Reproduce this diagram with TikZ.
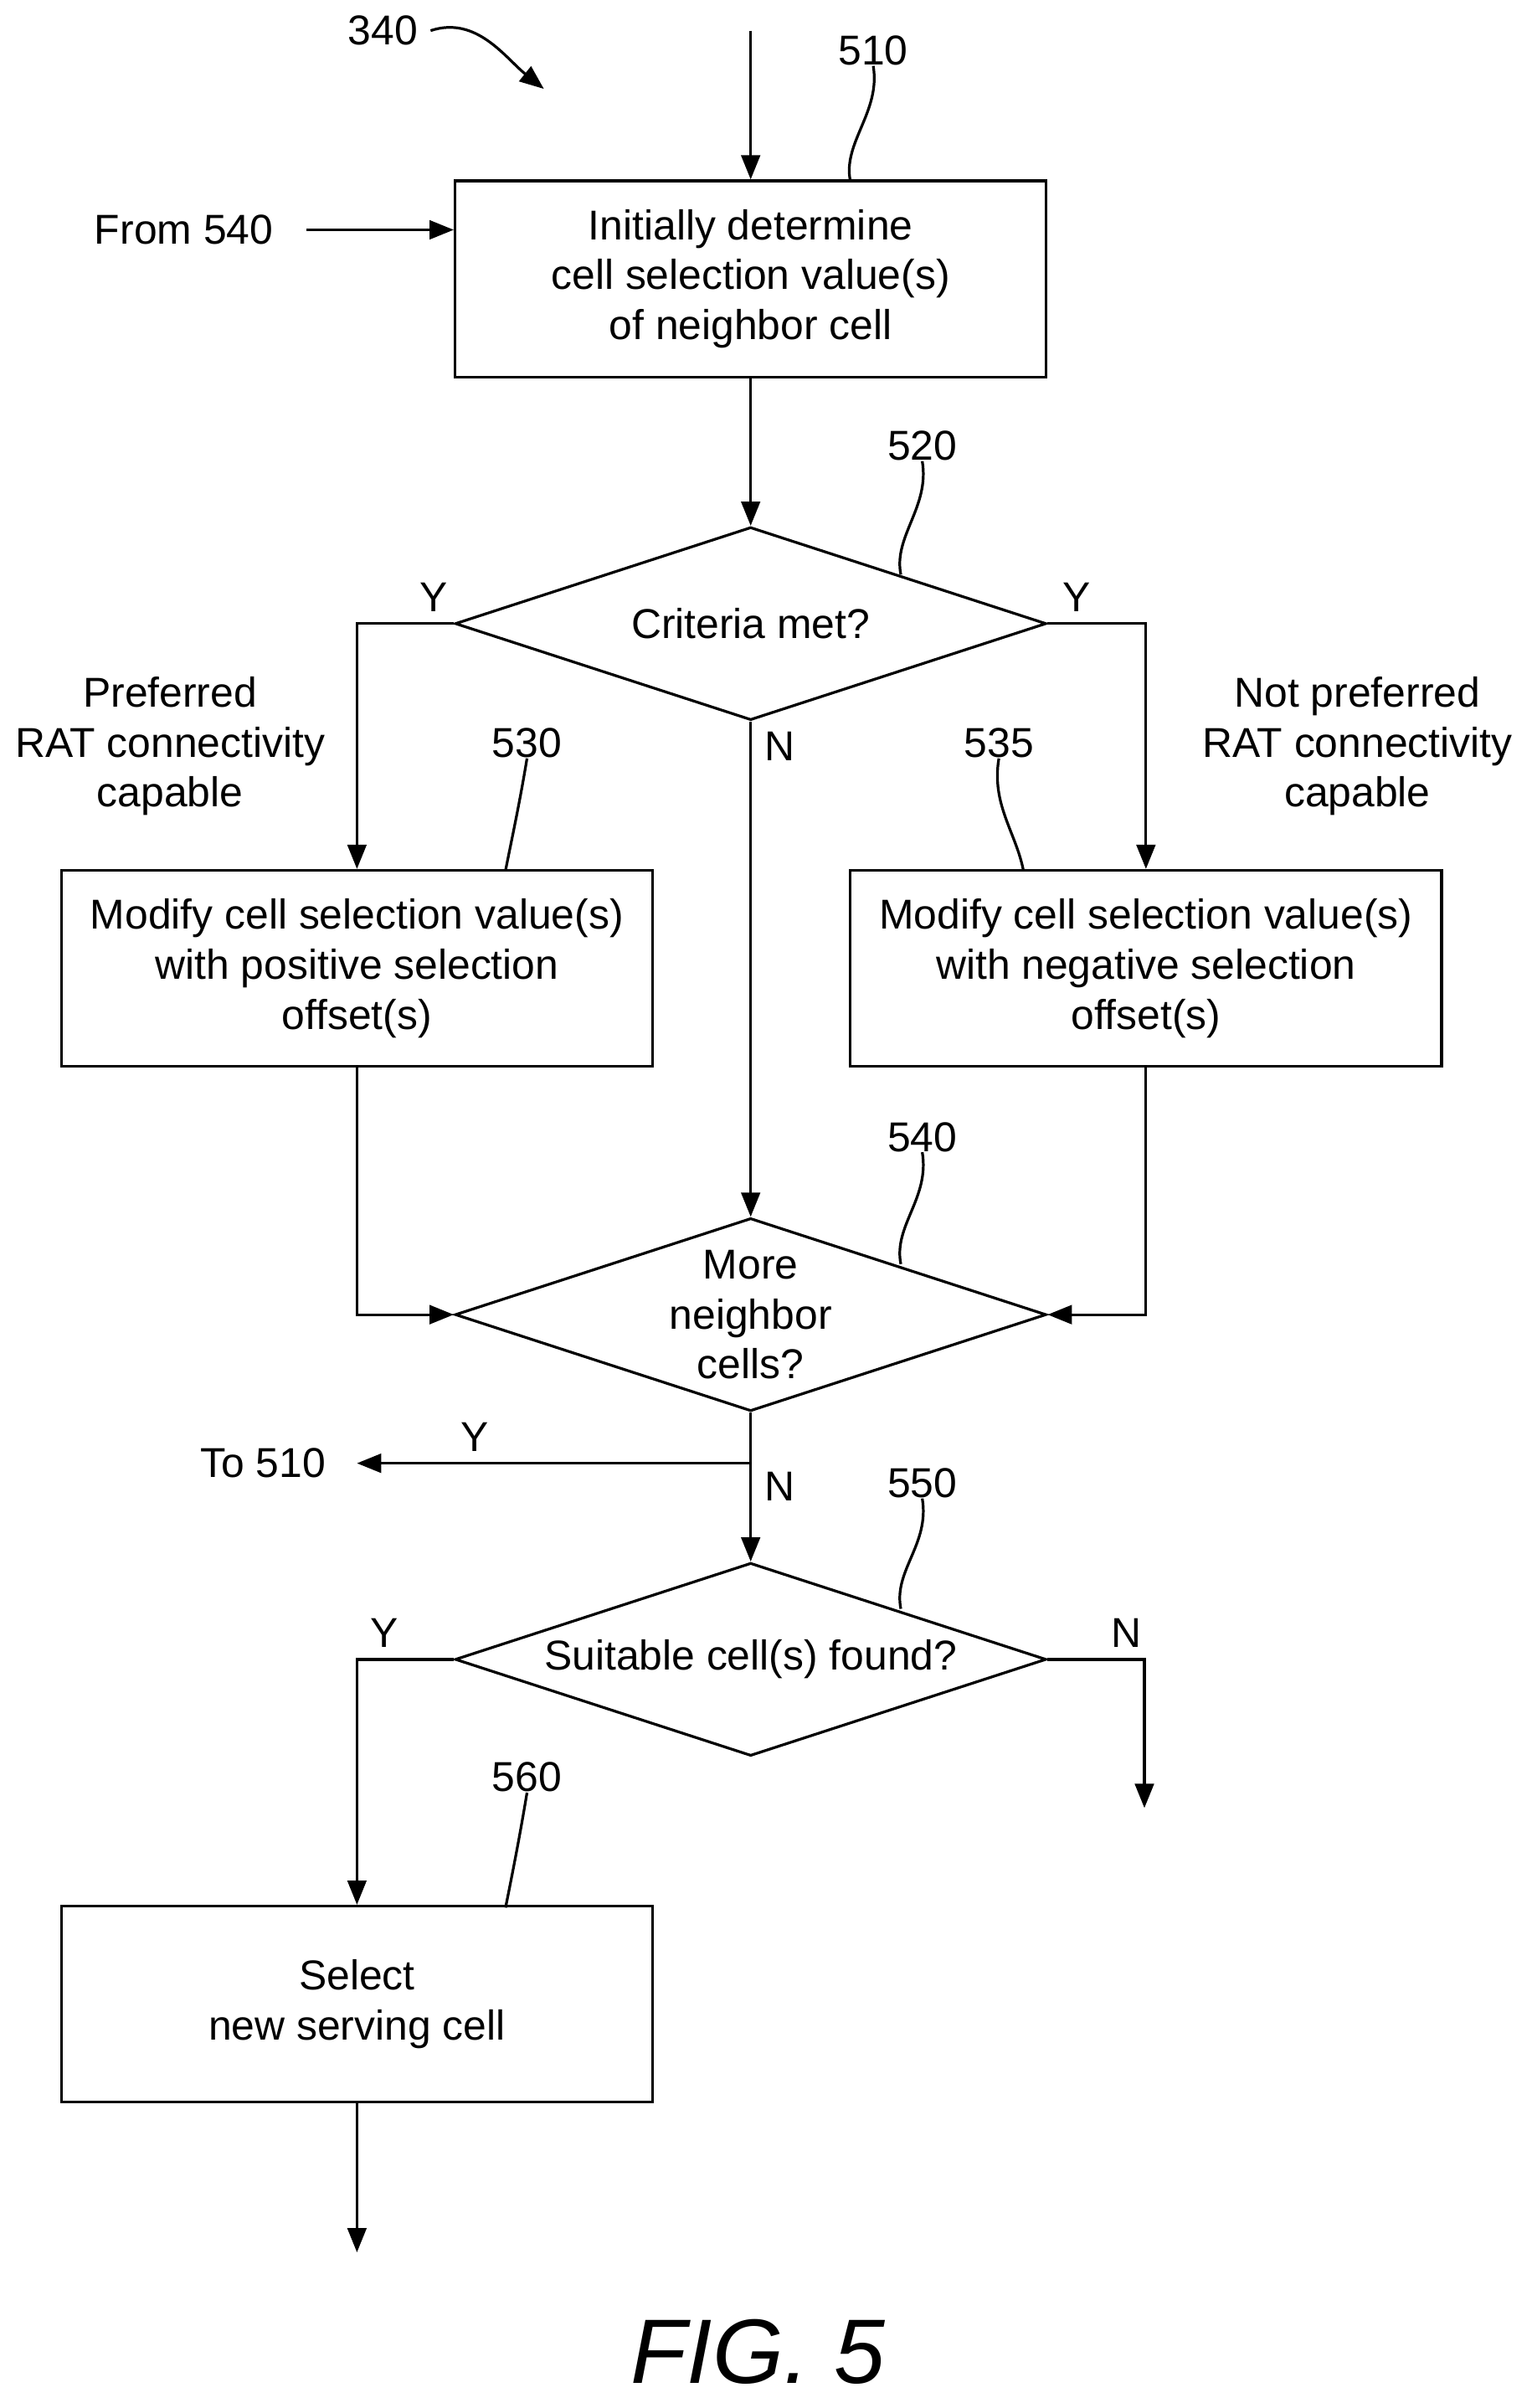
\documentclass[tikz,border=0pt]{standalone}
\usepackage{fontspec}
\setmainfont{Liberation Sans}
\usetikzlibrary{arrows.meta,shapes.geometric}
\begin{document}
\begin{tikzpicture}[x=0.02cm,y=-0.02cm,
  every node/.style={font=\fontsize{15.5}{18.6}\selectfont},
  box/.style={draw,line width=1pt,minimum width=7.72cm,minimum height=2.56cm,align=center,inner sep=0pt},
  dia/.style={draw,line width=1pt,diamond,minimum width=7.72cm,minimum height=2.52cm,inner sep=0pt},
  txt/.style={align=center,inner sep=0pt},
  line/.style={line width=1pt},
  arr/.style={line width=1pt,-{Triangle[length=9pt,width=7pt]}}]
\useasboundingbox (0,0) rectangle (1000,1571.6);
% boxes and decisions
\node[box] (b510) at (490,182) {Initially determine\\cell selection value(s)\\of neighbor cell};
\node[dia] (d520) at (490,407) {};
\node[txt] (t520) at (d520) {Criteria met?};
\node[box] (b530) at (233,632) {Modify cell selection value(s)\\with positive selection\\offset(s)};
\node[box] (b535) at (748,632) {Modify cell selection value(s)\\with negative selection\\offset(s)};
\node[dia] (d540) at (490,858) {};
\node[txt] (t540) at (d540) {More\\neighbor\\cells?};
\node[dia] (d550) at (490,1083) {};
\node[txt] (t550) at (d550) {Suitable cell(s) found?};
\node[box] (b560) at (233,1308) {Select\\new serving cell};
% free ends
\coordinate (top) at (490,20);
\coordinate (from) at (200,150);
\coordinate (to510) at (233,955);
\coordinate (split) at (490,955);
\coordinate (nend) at (747,1180);
\coordinate (bend) at (233,1470);
% texts
\node[txt] (l340) at (250,20) {340};
\node[txt] (lfrom) at (120,150) {From 540};
\node[txt,anchor=east] (lto) at (to510) [xshift=-0.4cm] {To 510};
\node[txt] (pref) at (111,487) {Preferred\\RAT connectivity\\capable};
\node[txt] (npref) at (886,487) {Not preferred\\RAT connectivity\\capable};
\node[txt] at (283,390) {Y};
\node[txt] at (703,390) {Y};
\node[txt] at (509,487) {N};
\node[txt] at (310,938) {Y};
\node[txt] at (509,970) {N};
\node[txt] at (251,1066) {Y};
\node[txt] at (735,1066) {N};
\node[txt] (fig) at (495,1535) {\fontsize{34}{40}\selectfont\itshape FIG. 5};
% reference numerals with leaders
\node[txt] (n510) at (570,33) {510};
\draw[line] (n510.south) .. controls +(5,30) and +(-5,-25) .. (555,118);
\node[txt] (n520) at (602,291) {520};
\draw[line] (n520.south) .. controls +(5,30) and +(-5,-25) .. (588,375);
\node[txt] (n530) at (344,485) {530};
\draw[line] (n530.south) .. controls +(-5,30) and +(5,-25) .. (330,568);
\node[txt] (n535) at (652,485) {535};
\draw[line] (n535.south) .. controls +(-5,30) and +(-5,-25) .. (668,568);
\node[txt] (n540) at (602,742) {540};
\draw[line] (n540.south) .. controls +(5,30) and +(-5,-25) .. (588,825);
\node[txt] (n550) at (602,968) {550};
\draw[line] (n550.south) .. controls +(5,30) and +(-5,-25) .. (588,1050);
\node[txt] (n560) at (344,1160) {560};
\draw[line] (n560.south) .. controls +(-5,30) and +(5,-25) .. (330,1245);
\draw[arr] (l340.east) ++(8,0) .. controls +(30,-10) and +(-25,-20) .. (355,58);
% connectors
\draw[arr] (top) -- (b510);
\draw[arr] (from) -- (from -| b510.west);
\draw[arr] (b510) -- (d520);
\draw[arr] (d520.west) -| (b530.north);
\draw[arr] (d520.east) -| (b535.north);
\draw[arr] (d520.south) -- (d540.north);
\draw[arr] (b530.south) |- (d540.west);
\draw[arr] (b535.south) |- (d540.east);
\draw[arr] (d540.south) -- (d550.north);
\draw[arr] (split) -- (to510);
\draw[arr] (d550.east) -| (nend);
\draw[arr] (d550.west) -| (b560.north);
\draw[arr] (b560) -- (bend);
\end{tikzpicture}
\end{document}
